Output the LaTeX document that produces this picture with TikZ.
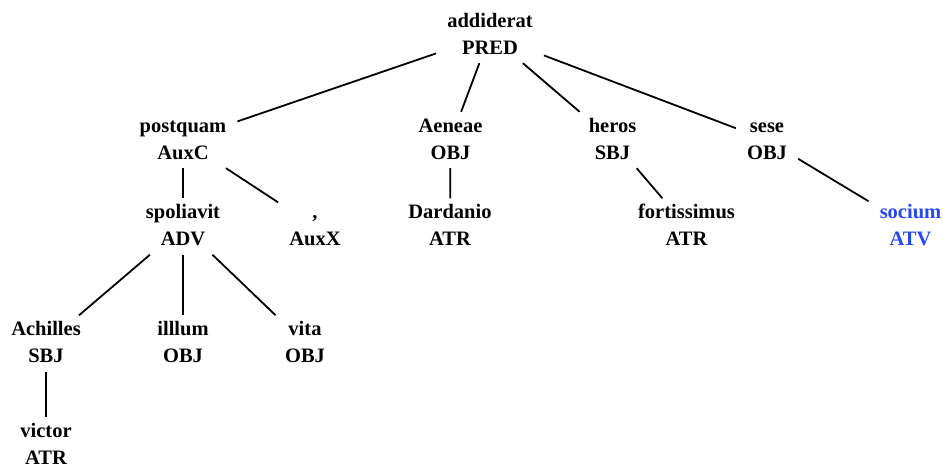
\documentclass[tikz,border=0pt]{standalone}
\usepackage{fontspec}
\setmainfont{Liberation Serif}
\definecolor{atvblue}{RGB}{38,72,240}
\newcommand\treelbl[2]{\rule{0pt}{16pt}#1\\#2\rule[-5pt]{0pt}{5pt}}
\begin{document}
\begin{tikzpicture}[x=1pt,y=-1pt,
  tnode/.style={align=center,inner xsep=11pt,inner ysep=4pt,
    font=\fontsize{20.5}{27}\selectfont\bfseries},
  edge/.style={line width=1.8pt}]
\useasboundingbox (0,0) rectangle (943,466);
\node[tnode] (addiderat) at (490,35) {\treelbl{addiderat}{PRED}};
\node[tnode] (postquam) at (183,140) {\treelbl{postquam}{AuxC}};
\node[tnode] (aeneae) at (450.5,140) {\treelbl{Aeneae}{OBJ}};
\node[tnode] (heros) at (612.5,140) {\treelbl{heros}{SBJ}};
\node[tnode] (sese) at (767,140) {\treelbl{sese}{OBJ}};
\node[tnode] (spoliavit) at (183,226.5) {\treelbl{spoliavit}{ADV}};
\node[tnode] (comma) at (315,226.5) {\treelbl{,}{AuxX}};
\node[tnode] (dardanio) at (450,226.5) {\treelbl{Dardanio}{ATR}};
\node[tnode] (fortissimus) at (686.5,226.5) {\treelbl{fortissimus}{ATR}};
\node[tnode,text=atvblue] (socium) at (910.5,226.5) {\treelbl{socium}{ATV}};
\node[tnode] (achilles) at (46,343.5) {\treelbl{Achilles}{SBJ}};
\node[tnode] (illlum) at (183,343.5) {\treelbl{illlum}{OBJ}};
\node[tnode] (vita) at (305,343.5) {\treelbl{vita}{OBJ}};
\node[tnode] (victor) at (46,445.5) {\treelbl{victor}{ATR}};
\draw[edge] (addiderat) -- (postquam);
\draw[edge] (addiderat) -- (aeneae);
\draw[edge] (addiderat) -- (heros);
\draw[edge] (addiderat) -- (sese);
\draw[edge] (postquam) -- (spoliavit);
\draw[edge] (postquam) -- (comma);
\draw[edge] (spoliavit) -- (achilles);
\draw[edge] (spoliavit) -- (illlum);
\draw[edge] (spoliavit) -- (vita);
\draw[edge] (achilles) -- (victor);
\draw[edge] (aeneae) -- (dardanio);
\draw[edge] (heros) -- (fortissimus);
\draw[edge] (sese) -- (socium);
\end{tikzpicture}
\end{document}
